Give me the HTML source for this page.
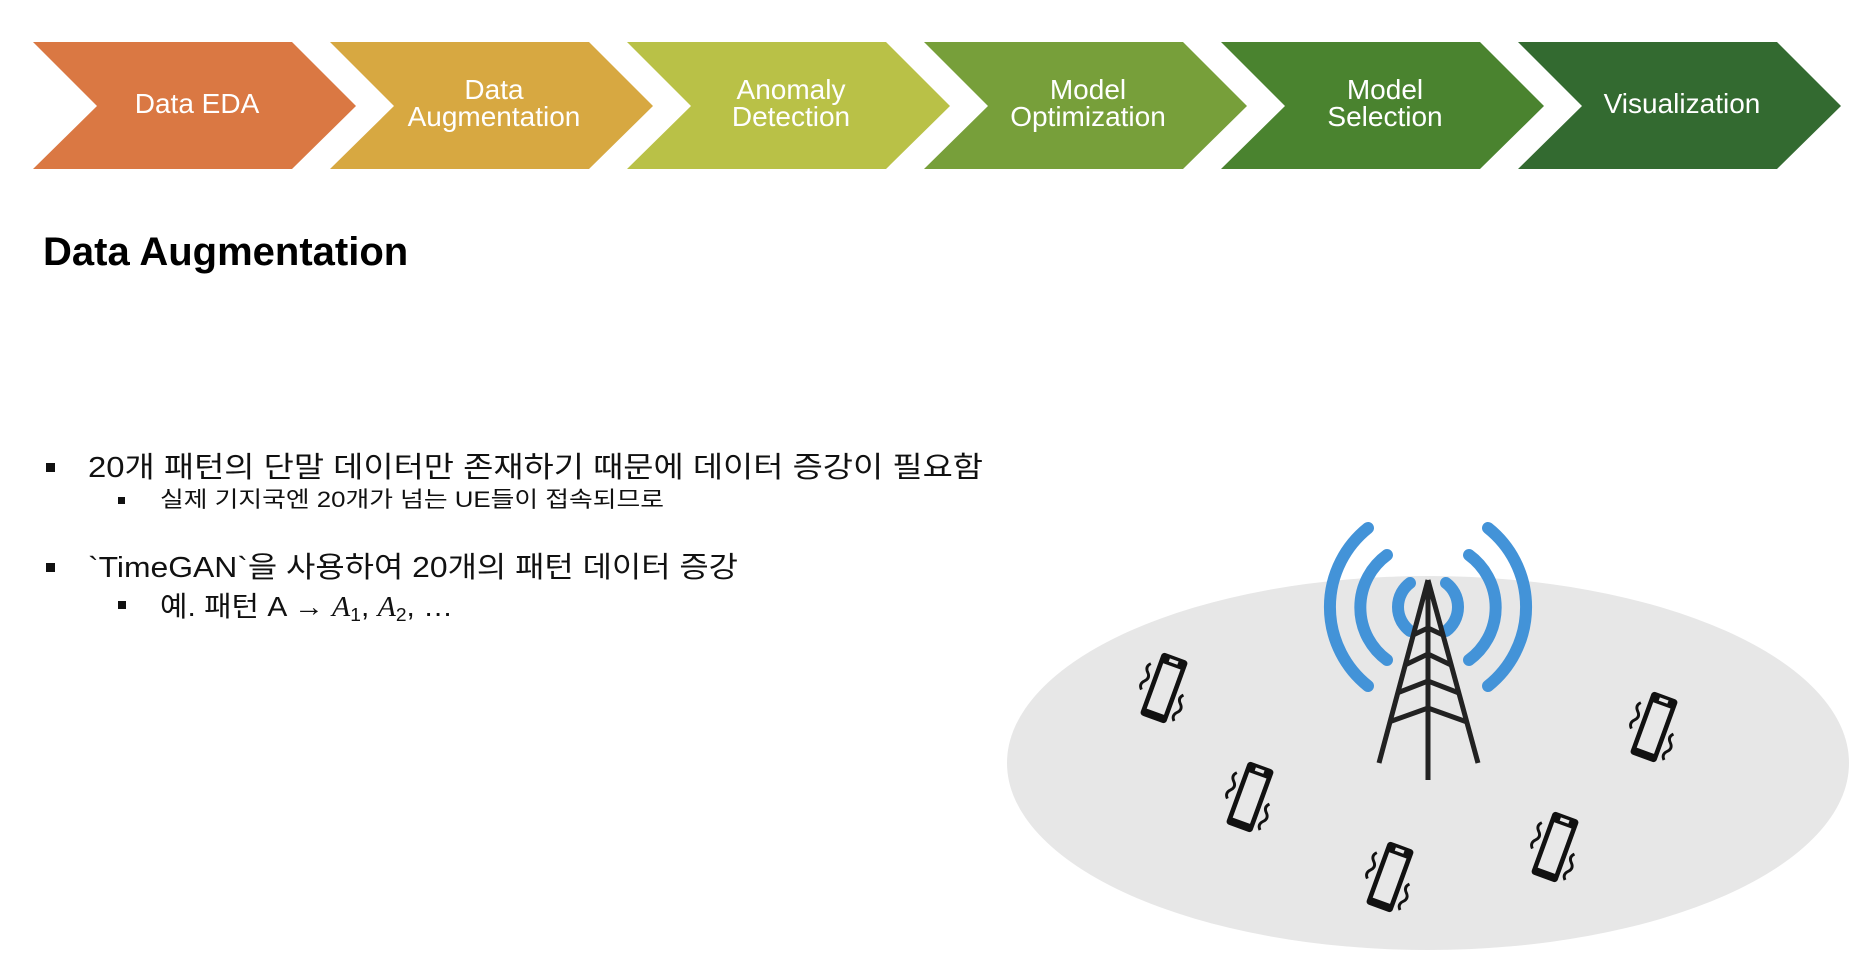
<!DOCTYPE html>
<html><head><meta charset="utf-8"><style>
body{margin:0;width:1866px;height:964px;background:#fff;overflow:hidden;font-family:"Liberation Sans","Noto Sans CJK KR",sans-serif}
svg{position:absolute;left:0;top:0}
</style></head><body>
<svg width="1866" height="964" viewBox="0 0 1866 964" xmlns="http://www.w3.org/2000/svg">
<defs>
<g id="ph">
<rect x="-12" y="-29" width="24" height="58" rx="3" fill="#111"/>
<rect x="-8" y="-20" width="16" height="42" fill="#e8e8e8"/>
<rect x="-4" y="-26" width="8" height="3" fill="#e8e8e8"/>
<path d="M-18,-16 q-4,4 0,8 q4,4 0,8 q-4,4 0,8" stroke="#111" stroke-width="2.5" fill="none"/>
<path d="M18,0 q-4,4 0,8 q4,4 0,8 q-4,4 0,8" stroke="#111" stroke-width="2.5" fill="none"/>
</g>
</defs>
<g font-family="Liberation Sans, sans-serif" font-size="28" fill="#fff" text-anchor="middle">
<polygon points="33,42 292,42 356,106 292,169 33,169 97,106" fill="#DA7843"/>
<polygon points="330,42 589,42 653,106 589,169 330,169 394,106" fill="#D7A841"/>
<polygon points="627,42 886,42 950,106 886,169 627,169 691,106" fill="#B9C147"/>
<polygon points="924,42 1183,42 1247,106 1183,169 924,169 988,106" fill="#779F3A"/>
<polygon points="1221,42 1480,42 1544,106 1480,169 1221,169 1285,106" fill="#4A832F"/>
<polygon points="1518,42 1777,42 1841,106 1777,169 1518,169 1582,106" fill="#336A30"/>
<text x="197" y="113">Data EDA</text>
<text x="494" y="99">Data</text><text x="494" y="126">Augmentation</text>
<text x="791" y="99">Anomaly</text><text x="791" y="126">Detection</text>
<text x="1088" y="99">Model</text><text x="1088" y="126">Optimization</text>
<text x="1385" y="99">Model</text><text x="1385" y="126">Selection</text>
<text x="1682" y="113">Visualization</text>
</g>
<text x="43" y="265" font-family="Liberation Sans, sans-serif" font-weight="bold" font-size="40" fill="#000">Data Augmentation</text>
<g font-family="Liberation Sans, Noto Sans CJK KR, sans-serif" fill="#111">
<rect x="46" y="463" width="9" height="9"/>
<text x="88" y="477" font-size="29" textLength="895" lengthAdjust="spacingAndGlyphs">20개 패턴의 단말 데이터만 존재하기 때문에 데이터 증강이 필요함</text>
<rect x="118" y="497" width="7" height="7"/>
<text x="160" y="507" font-size="22" textLength="504" lengthAdjust="spacingAndGlyphs">실제 기지국엔 20개가 넘는 UE들이 접속되므로</text>
<rect x="46" y="563" width="9" height="9"/>
<text x="88" y="577" font-size="29" textLength="650" lengthAdjust="spacingAndGlyphs">`TimeGAN`을 사용하여 20개의 패턴 데이터 증강</text>
<rect x="118" y="601" width="8" height="8"/>
<text x="160" y="616" font-size="28" textLength="293" lengthAdjust="spacingAndGlyphs">예. 패턴 A → <tspan font-family="Liberation Serif, serif" font-style="italic">A</tspan><tspan font-size="18" dy="5">1</tspan><tspan dy="-5">, </tspan><tspan font-family="Liberation Serif, serif" font-style="italic">A</tspan><tspan font-size="18" dy="5">2</tspan><tspan dy="-5">, …</tspan></text>
</g>
<ellipse cx="1428" cy="763" rx="421" ry="187" fill="#e7e7e7"/>
<g stroke="#4393D8" stroke-width="12" fill="none" stroke-linecap="round">
<path d="M1410,583 A30,30 0 0 0 1410,631"/>
<path d="M1446,583 A30,30 0 0 1 1446,631"/>
<path d="M1387,555 A65,65 0 0 0 1387,660"/>
<path d="M1469,555 A65,65 0 0 1 1469,660"/>
<path d="M1368,528 A101,101 0 0 0 1368,686"/>
<path d="M1488,528 A101,101 0 0 1 1488,686"/>
</g>
<g stroke="#222" stroke-width="5" fill="none">
<line x1="1428" y1="580" x2="1428" y2="780"/>
<line x1="1428" y1="580" x2="1379" y2="763"/>
<line x1="1428" y1="580" x2="1478" y2="763"/>
<path d="M1413,635 L1428,628 L1443,635"/>
<path d="M1405,665 L1428,654 L1451,665"/>
<path d="M1397,693 L1428,681 L1459,693"/>
<path d="M1389,722 L1428,708 L1467,722"/>
</g>
<use href="#ph" transform="translate(1164,688) rotate(20) scale(1.15)"/>
<use href="#ph" transform="translate(1654,727) rotate(20) scale(1.15)"/>
<use href="#ph" transform="translate(1250,797) rotate(20) scale(1.15)"/>
<use href="#ph" transform="translate(1390,877) rotate(20) scale(1.15)"/>
<use href="#ph" transform="translate(1555,847) rotate(20) scale(1.15)"/>
</svg>
</body></html>
